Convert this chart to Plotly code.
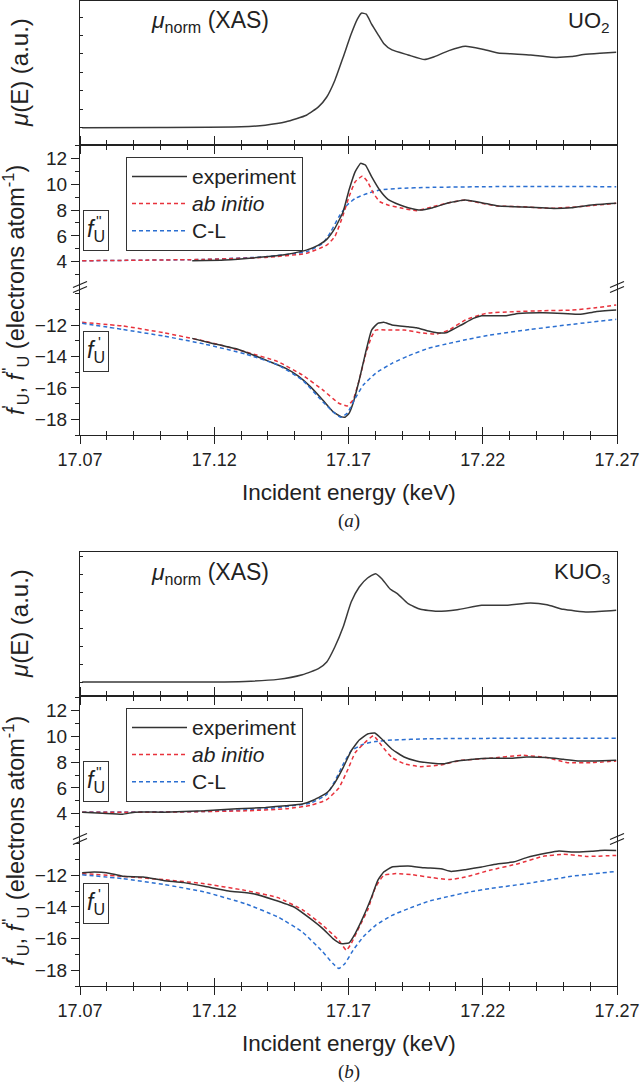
import plotly.graph_objects as go

# ---------------- data ----------------
# Panel (a): UO2
xas_a_E = [17.0708, 17.1000, 17.1300, 17.1390, 17.1467, 17.1543, 17.1588, 17.1619, 17.1649, 17.1680,
           17.1710, 17.1733, 17.1748, 17.1766, 17.1786, 17.1809, 17.1831, 17.1862, 17.1922, 17.1983,
           17.2014, 17.2074, 17.2135, 17.2196, 17.2257, 17.2317, 17.2378, 17.2454, 17.2530, 17.2575,
           17.2636, 17.2697]
xas_a_mu = [0.0, 0.003, 0.013, 0.036, 0.081, 0.170, 0.283, 0.417, 0.641, 0.955,
            1.269, 1.471, 1.552, 1.538, 1.404, 1.269, 1.143, 1.054, 0.987, 0.924,
            0.955, 1.045, 1.103, 1.067, 1.013, 1.000, 0.987, 0.955, 0.964, 0.991,
            1.009, 1.022]

fpp_a_exp_E = [17.1118, 17.1239, 17.1391, 17.1467, 17.1543, 17.1588, 17.1619, 17.1649, 17.1680, 17.1702,
               17.1725, 17.1745, 17.1763, 17.1786, 17.1816, 17.1847, 17.1892, 17.1922, 17.1968, 17.2014,
               17.2074, 17.2135, 17.2196, 17.2257, 17.2317, 17.2378, 17.2454, 17.2530, 17.2606, 17.2697]
fpp_a_exp = [4.08, 4.13, 4.39, 4.57, 4.90, 5.29, 5.73, 6.58, 7.87, 9.55,
             10.97, 11.61, 11.48, 10.58, 9.55, 8.83, 8.39, 8.18, 8.00, 8.18,
             8.57, 8.77, 8.57, 8.31, 8.26, 8.21, 8.13, 8.18, 8.39, 8.52]
fpp_a_abi_E = [17.0708, 17.1163, 17.1391, 17.1543, 17.1619, 17.1649, 17.1680, 17.1702, 17.1725, 17.1752,
               17.1771, 17.1793, 17.1816, 17.1847, 17.1892, 17.1953, 17.2014, 17.2074, 17.2135, 17.2196,
               17.2257, 17.2348, 17.2454, 17.2560, 17.2697]
fpp_a_abi = [4.08, 4.18, 4.34, 4.65, 5.29, 5.94, 7.61, 9.03, 10.19, 10.63,
             10.19, 9.29, 8.65, 8.39, 8.18, 7.95, 8.26, 8.57, 8.77, 8.52,
             8.31, 8.26, 8.13, 8.26, 8.52]
fpp_a_cl_E = [17.0708, 17.1163, 17.1391, 17.1543, 17.1604, 17.1634, 17.1664, 17.1695, 17.1725, 17.1771,
              17.1816, 17.1892, 17.1998, 17.2226, 17.2697]
fpp_a_cl = [4.08, 4.18, 4.39, 4.77, 5.42, 6.32, 7.48, 8.39, 8.90, 9.29,
            9.55, 9.68, 9.75, 9.81, 9.81]

fp_a_exp_E = [17.1118, 17.1194, 17.1285, 17.1345, 17.1406, 17.1467, 17.1512, 17.1558, 17.1604, 17.1642,
              17.1672, 17.1687, 17.1702, 17.1717, 17.1740, 17.1763, 17.1786, 17.1809, 17.1831, 17.1862,
              17.1922, 17.1953, 17.1998, 17.2029, 17.2067, 17.2120, 17.2165, 17.2196, 17.2287, 17.2332,
              17.2424, 17.2500, 17.2560, 17.2621, 17.2697]
fp_a_exp = [-12.85, -13.17, -13.53, -13.91, -14.33, -14.76, -15.24, -15.92, -16.77, -17.51,
            -17.83, -17.87, -17.62, -16.98, -15.50, -13.80, -12.32, -11.89, -11.83, -12.00,
            -12.11, -12.17, -12.38, -12.49, -12.47, -12.00, -11.58, -11.41, -11.41, -11.26,
            -11.22, -11.26, -11.32, -11.15, -11.05]
fp_a_abi_E = [17.0708, 17.0859, 17.1011, 17.1163, 17.1315, 17.1437, 17.1528, 17.1604, 17.1664, 17.1695,
              17.1717, 17.1740, 17.1763, 17.1786, 17.1801, 17.1847, 17.1907, 17.1968, 17.2029, 17.2074,
              17.2135, 17.2211, 17.2317, 17.2424, 17.2530, 17.2621, 17.2697]
fp_a_abi = [-11.83, -12.06, -12.49, -13.02, -13.70, -14.33, -15.18, -16.13, -16.98, -17.15,
            -16.77, -15.50, -13.91, -12.74, -12.32, -12.32, -12.32, -12.49, -12.57, -12.32,
            -11.68, -11.26, -11.15, -11.09, -11.05, -10.90, -10.73]
fp_a_cl_E = [17.0708, 17.0859, 17.1011, 17.1163, 17.1315, 17.1437, 17.1528, 17.1604, 17.1649, 17.1672,
             17.1695, 17.1725, 17.1755, 17.1801, 17.1862, 17.1922, 17.1998, 17.2074, 17.2150, 17.2226,
             17.2378, 17.2530, 17.2697]
fp_a_cl = [-11.89, -12.28, -12.70, -13.21, -13.84, -14.54, -15.50, -16.88, -17.62, -17.87,
           -17.62, -16.66, -15.82, -15.07, -14.44, -13.97, -13.48, -13.17, -12.89, -12.64,
           -12.28, -11.96, -11.64]

# Panel (b): KUO3
xas_b_E = [17.0708, 17.1163, 17.1315, 17.1437, 17.1528, 17.1588, 17.1619, 17.1649, 17.1680, 17.1710,
           17.1740, 17.1771, 17.1801, 17.1824, 17.1854, 17.1885, 17.1922, 17.1968, 17.2029, 17.2105,
           17.2196, 17.2287, 17.2378, 17.2439, 17.2500, 17.2591, 17.2697]
xas_b_mu = [0.0, 0.0, 0.009, 0.037, 0.102, 0.186, 0.279, 0.488, 0.767, 1.116,
            1.326, 1.451, 1.512, 1.442, 1.302, 1.223, 1.093, 1.014, 0.986, 1.009,
            1.070, 1.070, 1.102, 1.079, 1.014, 0.977, 1.000]

fpp_b_exp_E = [17.0708, 17.0784, 17.0859, 17.0905, 17.1011, 17.1163, 17.1285, 17.1391, 17.1467, 17.1528,
               17.1573, 17.1619, 17.1649, 17.1680, 17.1710, 17.1740, 17.1771, 17.1798, 17.1824, 17.1862,
               17.1907, 17.1953, 17.2014, 17.2059, 17.2090, 17.2165, 17.2226, 17.2302, 17.2363, 17.2439,
               17.2500, 17.2560, 17.2621, 17.2697]
fpp_b_exp = [4.13, 4.05, 3.97, 4.13, 4.13, 4.23, 4.39, 4.49, 4.63, 4.76,
             5.09, 5.62, 6.40, 7.57, 8.87, 9.71, 10.18, 10.25, 9.79, 9.00,
             8.40, 8.09, 7.91, 7.88, 8.04, 8.22, 8.30, 8.30, 8.40, 8.35,
             8.22, 8.09, 8.09, 8.14]
fpp_b_abi_E = [17.0708, 17.1011, 17.1315, 17.1467, 17.1558, 17.1619, 17.1664, 17.1695, 17.1725, 17.1755,
               17.1793, 17.1824, 17.1862, 17.1907, 17.1968, 17.2044, 17.2120, 17.2226, 17.2348, 17.2439,
               17.2515, 17.2606, 17.2697]
fpp_b_abi = [4.13, 4.13, 4.23, 4.39, 4.65, 5.09, 6.00, 7.31, 8.74, 9.39,
             10.05, 9.26, 8.35, 7.88, 7.65, 7.78, 8.14, 8.30, 8.53, 8.35,
             7.96, 7.96, 8.09]
fpp_b_cl_E = [17.0708, 17.1163, 17.1391, 17.1558, 17.1619, 17.1649, 17.1680, 17.1710, 17.1755, 17.1801,
              17.1862, 17.1998, 17.2226, 17.2697]
fpp_b_cl = [4.13, 4.18, 4.39, 4.83, 5.49, 6.53, 7.83, 8.87, 9.39, 9.60,
            9.71, 9.81, 9.84, 9.84]

fp_b_exp_E = [17.0708, 17.0753, 17.0799, 17.0859, 17.0935, 17.1011, 17.1087, 17.1163, 17.1254, 17.1345,
              17.1421, 17.1497, 17.1558, 17.1604, 17.1642, 17.1672, 17.1702, 17.1725, 17.1755, 17.1786,
              17.1809, 17.1831, 17.1862, 17.1922, 17.1983, 17.2044, 17.2082, 17.2135, 17.2196, 17.2241,
              17.2317, 17.2363, 17.2439, 17.2484, 17.2545, 17.2606, 17.2636, 17.2697]
fp_b_exp = [-11.83, -11.79, -11.83, -12.06, -12.11, -12.32, -12.46, -12.69, -12.99, -13.16,
            -13.54, -14.00, -14.74, -15.37, -16.00, -16.32, -16.27, -15.68, -14.63, -13.37,
            -12.32, -11.79, -11.47, -11.41, -11.52, -11.58, -11.75, -11.64, -11.47, -11.31,
            -11.14, -10.88, -10.59, -10.46, -10.53, -10.48, -10.42, -10.42]
fp_b_abi_E = [17.0708, 17.0859, 17.1011, 17.1163, 17.1315, 17.1437, 17.1528, 17.1604, 17.1664, 17.1692,
              17.1710, 17.1740, 17.1771, 17.1801, 17.1831, 17.1877, 17.1937, 17.2014, 17.2074, 17.2135,
              17.2226, 17.2332, 17.2424, 17.2500, 17.2591, 17.2697]
fp_b_abi = [-11.89, -12.06, -12.27, -12.53, -12.95, -13.41, -14.17, -15.16, -16.11, -16.74,
            -16.32, -15.26, -14.21, -12.74, -12.00, -11.89, -11.96, -12.15, -12.27, -12.11,
            -11.68, -11.26, -10.80, -10.67, -10.80, -10.74]
fp_b_cl_E = [17.0708, 17.0859, 17.1011, 17.1163, 17.1315, 17.1437, 17.1528, 17.1604, 17.1642, 17.1664,
             17.1687, 17.1717, 17.1755, 17.1801, 17.1862, 17.1922, 17.1998, 17.2074, 17.2150, 17.2226,
             17.2378, 17.2530, 17.2697]
fp_b_cl = [-11.96, -12.21, -12.57, -13.05, -13.79, -14.63, -15.58, -16.84, -17.58, -17.89,
           -17.58, -16.74, -15.89, -15.16, -14.53, -14.11, -13.64, -13.33, -13.05, -12.84,
           -12.48, -12.06, -11.75]

x_ticks = [17.07, 17.12, 17.17, 17.22, 17.27]
x_ticktext = ["17.07", "17.12", "17.17", "17.22", "17.27"]
fpp_ticks = [4, 6, 8, 10, 12]
fp_ticks = [-18, -16, -14, -12]
series_names = ["experiment", "<i>ab initio</i>", "C-L"]
sample_names = ["UO<sub>2</sub>", "KUO<sub>3</sub>"]
panel_tags = ["(<i>a</i>)", "(<i>b</i>)"]

# ---------------- styling / layout ----------------
W, H = 640, 1084
def fx(p):
    return p / W
def fy(p):
    return 1 - p / H

FONT = "Liberation Sans, Arial, sans-serif"
INK = "#222222"
C_EXP = "#333333"
C_ABI = "#e8323c"
C_CL = "#2b6fd1"
DASH = "4px,3px"
X0, X1 = 80, 617
XC = (X0 + X1) / 2
XR = [17.07, 17.27]
XTICKFONT = dict(size=18)
YTICKFONT = dict(size=19)
LEGEND_ROW_FONT = 18.5     # sets legend row spacing
LEGEND_TEXT_PX = 21        # visible legend text size

panels = [
    dict(xas=(1, 145), fpp=(145, 287), fp=(287, 435),
         xas_rng=[-0.233, 1.717], fpp_rng=[2.05, 13.03], fp_rng=[-19.0, -9.58],
         data=dict(xas=(xas_a_E, xas_a_mu),
                   fpp=[(fpp_a_exp_E, fpp_a_exp), (fpp_a_abi_E, fpp_a_abi), (fpp_a_cl_E, fpp_a_cl)],
                   fp=[(fp_a_exp_E, fp_a_exp), (fp_a_abi_E, fp_a_abi), (fp_a_cl_E, fp_a_cl)]),
         ax=(1, 2, 3, 7), legend="legend"),
    dict(xas=(552, 696), fpp=(696, 839), fp=(839, 986),
         xas_rng=[-0.195, 1.814], fpp_rng=[2.05, 13.12], fp_rng=[-19.0, -9.7],
         data=dict(xas=(xas_b_E, xas_b_mu),
                   fpp=[(fpp_b_exp_E, fpp_b_exp), (fpp_b_abi_E, fpp_b_abi), (fpp_b_cl_E, fpp_b_cl)],
                   fp=[(fp_b_exp_E, fp_b_exp), (fp_b_abi_E, fp_b_abi), (fp_b_cl_E, fp_b_cl)]),
         ax=(4, 5, 6, 8), legend="legend2"),
]

fig = go.Figure()
layout = dict(
    width=W, height=H, margin=dict(l=0, r=0, t=0, b=0, pad=0),
    paper_bgcolor="white", plot_bgcolor="rgba(0,0,0,0)",
    font=dict(family=FONT, color=INK, size=18),
    showlegend=True, annotations=[], shapes=[],
)

def nm(prefix, i):
    return prefix if i == 1 else f"{prefix}{i}"

line_common = dict(showline=True, linecolor=INK, linewidth=1.3, zeroline=False,
                   showgrid=False, tickcolor=INK, tickwidth=1.3, automargin=False,
                   ticklabeloverflow="allow")

colors = [C_EXP, C_ABI, C_CL]
dashes = ["solid", DASH, DASH]

def minor_x(side):
    return dict(ticks=side, ticklen=4, dtick=0.01, tick0=17.07, tickcolor=INK, tickwidth=1.3)

for pi, P in enumerate(panels):
    ia, ib, ic, io = P["ax"]
    xd = [fx(X0), fx(X1)]
    # XAS axes
    layout[nm("xaxis", ia)] = dict(domain=xd, range=XR, anchor=nm("y", ia), side="bottom",
                                   ticks="outside", ticklen=8, tick0=17.07, dtick=0.05,
                                   showticklabels=False, mirror=True, minor=minor_x("outside"),
                                   **line_common)
    layout[nm("yaxis", ia)] = dict(domain=[fy(P["xas"][1]), fy(P["xas"][0])], range=P["xas_rng"],
                                   anchor=nm("x", ia), ticks="inside", ticklen=3, tick0=0, dtick=0.25,
                                   showticklabels=False, mirror=True, **line_common)
    # f'' axes (x axis on top, shares the XAS bottom line)
    layout[nm("xaxis", ib)] = dict(domain=xd, range=XR, anchor=nm("y", ib), side="top",
                                   ticks="outside", ticklen=8, tick0=17.07, dtick=0.05,
                                   showticklabels=False, minor=minor_x("outside"),
                                   **line_common)
    layout[nm("yaxis", ib)] = dict(domain=[fy(P["fpp"][1]), fy(P["fpp"][0])], range=P["fpp_rng"],
                                   anchor=nm("x", ib), ticks="outside", ticklen=8,
                                   tickmode="array", tickvals=fpp_ticks, mirror=True,
                                   tickfont=YTICKFONT,
                                   minor=dict(ticks="outside", ticklen=4, dtick=1, tick0=0,
                                              tickcolor=INK, tickwidth=1.3),
                                   **line_common)
    # f' axes
    layout[nm("xaxis", ic)] = dict(domain=xd, range=XR, anchor=nm("y", ic), side="bottom",
                                   ticks="outside", ticklen=8, tickmode="array", tickvals=x_ticks,
                                   ticktext=x_ticktext, tickfont=XTICKFONT, minor=minor_x("outside"),
                                   **line_common)
    layout[nm("xaxis", io)] = dict(domain=xd, range=XR, anchor=nm("y", ic), side="bottom",
                                   overlaying=nm("x", ic), ticks="inside", ticklen=8,
                                   tickmode="array", tickvals=x_ticks, showticklabels=False,
                                   minor=minor_x("inside"),
                                   showline=False, zeroline=False, showgrid=False,
                                   tickcolor=INK, tickwidth=1.3, automargin=False)
    layout[nm("yaxis", ic)] = dict(domain=[fy(P["fp"][1]), fy(P["fp"][0])], range=P["fp_rng"],
                                   anchor=nm("x", ic), ticks="outside", ticklen=8,
                                   tickmode="array", tickvals=fp_ticks, mirror=True,
                                   tickfont=YTICKFONT,
                                   minor=dict(ticks="outside", ticklen=4, dtick=1, tick0=0,
                                              tickcolor=INK, tickwidth=1.3),
                                   **line_common)

    # traces
    xE, xmu = P["data"]["xas"]
    fig.add_trace(go.Scatter(x=xE, y=xmu, mode="lines",
                             line=dict(color="#3a3a3a", width=1.5, shape="spline", smoothing=0.5),
                             xaxis=nm("x", ia), yaxis=nm("y", ia), showlegend=False, hoverinfo="skip"))
    for k in [2, 1, 0]:
        E, v = P["data"]["fpp"][k]
        label = f'<span style="font-size:{LEGEND_TEXT_PX}px">{series_names[k]}</span>'
        fig.add_trace(go.Scatter(x=E, y=v, mode="lines", name=label,
                                 line=dict(color=colors[k], width=1.5, dash=dashes[k], shape="spline", smoothing=0.4),
                                 xaxis=nm("x", ib), yaxis=nm("y", ib), legend=P["legend"],
                                 legendrank=k + 1, showlegend=True, hoverinfo="skip"))
    for k in [2, 1, 0]:
        E, v = P["data"]["fp"][k]
        xa = nm("x", io) if k == 2 else nm("x", ic)
        fig.add_trace(go.Scatter(x=E, y=v, mode="lines", name=series_names[k],
                                 line=dict(color=colors[k], width=1.5, dash=dashes[k], shape="spline", smoothing=0.4),
                                 xaxis=xa, yaxis=nm("y", ic), showlegend=False, hoverinfo="skip"))

    # legend
    layout[P["legend"]] = dict(x=fx(126), y=fy(P["fpp"][0] + 12), xanchor="left", yanchor="top",
                               bordercolor="#333333", borderwidth=1, bgcolor="rgba(255,255,255,0)",
                               font=dict(size=LEGEND_ROW_FONT, family=FONT, color=INK), tracegroupgap=0,
                               itemwidth=55, traceorder="normal")

    top = P["xas"][0]
    ann = layout["annotations"]
    ann.append(dict(text="<i>μ</i><sub>norm</sub> (XAS)", x=fx(149), y=fy(top + 21),
                    xref="paper", yref="paper", xanchor="left", yanchor="middle", showarrow=False,
                    font=dict(size=23)))
    ann.append(dict(text=sample_names[pi], x=fx(612), y=fy(top + 21),
                    xref="paper", yref="paper", xanchor="right", yanchor="middle", showarrow=False,
                    font=dict(size=22)))
    ann.append(dict(text="<i>μ</i>(E) (a.u.)", x=fx(19), y=fy((P["xas"][0] + P["xas"][1]) / 2),
                    xref="paper", yref="paper", xanchor="center", yanchor="middle", textangle=-90,
                    showarrow=False, font=dict(size=24)))
    ann.append(dict(text="<i>f</i><sup>'</sup><sub>U</sub>, <i>f</i><sup>''</sup><sub>U</sub> (electrons atom<sup>-1</sup>)",
                    x=fx(15), y=fy((P["fpp"][0] + P["fp"][1]) / 2),
                    xref="paper", yref="paper", xanchor="center", yanchor="middle", textangle=-90,
                    showarrow=False, font=dict(size=23.5)))
    # boxed f labels (primes placed above the subscript)
    for (yc_box, primes) in ((P["fpp"][0] + 85, "''"), (P["fp"][0] + 64, "'")):
        ann.append(dict(text="<i>f</i><sub>U</sub>", x=fx(96), y=fy(yc_box),
                        xref="paper", yref="paper", xanchor="center", yanchor="middle", showarrow=False,
                        font=dict(size=23), bordercolor="#333333", borderwidth=1, borderpad=0,
                        width=24, height=39, valign="middle"))
        ann.append(dict(text=primes, x=fx(99), y=fy(yc_box - 10),
                        xref="paper", yref="paper", xanchor="center", yanchor="middle", showarrow=False,
                        font=dict(size=15)))
    ann.append(dict(text="Incident energy (keV)", x=fx(XC), y=fy(P["fp"][1] + 57),
                    xref="paper", yref="paper", xanchor="center", yanchor="middle", showarrow=False,
                    font=dict(size=22.5)))
    ann.append(dict(text=panel_tags[pi], x=fx(XC), y=fy(P["fp"][1] + 86),
                    xref="paper", yref="paper", xanchor="center", yanchor="middle", showarrow=False,
                    font=dict(size=19, family="Liberation Serif, Times New Roman, serif")))

    # axis-break marks
    yc = P["fpp"][1]
    for xb in (X0, X1):
        for off in (-2.5, 2.5):
            layout["shapes"].append(dict(type="line", xref="paper", yref="paper",
                                         x0=fx(xb - 7), y0=fy(yc + off + 3), x1=fx(xb + 7), y1=fy(yc + off - 3),
                                         line=dict(color=INK, width=1.3)))

fig.update_layout(**layout)
fig.write_html("out.html", config={"displayModeBar": False},
               post_script="document.body.style.margin='0px';")
